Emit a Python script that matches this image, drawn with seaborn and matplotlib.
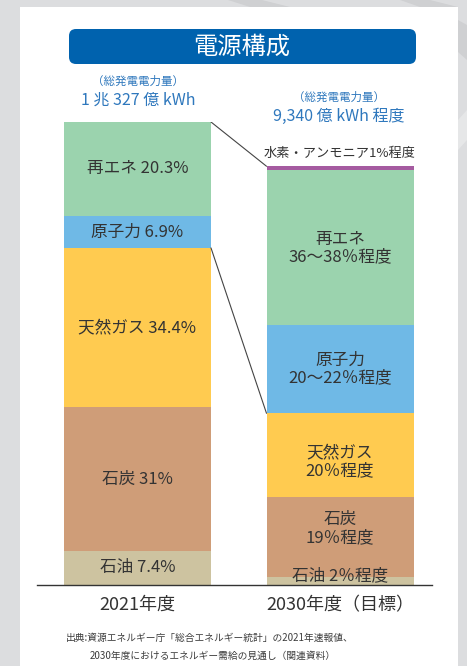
import matplotlib
matplotlib.use("Agg")
import matplotlib.pyplot as plt
from matplotlib.patches import Rectangle, FancyBboxPatch, Polygon
import numpy as np
import pandas as pd
import seaborn as sns

# 電源構成 (発電量シェア, %)
years = ["2021年度", "2030年度（目標）"]
totals = [1032.7, 934.0]  # 総発電電力量 (10億kWh)
sources = ["水素・アンモニア", "再エネ", "原子力", "天然ガス", "石炭", "石油"]
share_2021 = [0, 20.3, 6.9, 34.4, 31, 7.4]
share_2030 = [1, 37, 21, 20, 19, 2]
labels_2021 = ["", "再エネ 20.3%", "原子力 6.9%", "天然ガス 34.4%", "石炭 31%", "石油 7.4%"]
labels_2030 = ["水素・アンモニア1%程度", "再エネ\n36～38％程度", "原子力\n20～22％程度",
               "天然ガス\n20％程度", "石炭\n19％程度", "石油 2％程度"]
colors = ["#a55ba0", "#9bd3ae", "#6fb9e6", "#ffcb50", "#cf9d78", "#cdc3a0"]
header_small = ["（総発電電力量）", "（総発電電力量）"]
header_big = ["1 兆 327 億 kWh", "9,340 億 kWh 程度"]
title = "電源構成"
source_note = ["出典:資源エネルギー庁「総合エネルギー統計」の2021年速報値、",
               "2030年度におけるエネルギー需給の見通し（関連資料）"]

sns.set_style("white")
plt.rcParams["font.family"] = ["Noto Sans CJK JP", "DejaVu Sans"]

# 値 (10億kWh) と積み上げ
val = pd.DataFrame({"2021": np.array(share_2021) / 100 * totals[0],
                    "2030": np.array(share_2030) / 100 * totals[1]}, index=sources)
bottoms = val[::-1].cumsum()[::-1] - val  # 下から積む
tops = bottoms + val

fig = plt.figure(figsize=(4.67, 6.66), dpi=100, facecolor="#dcdddf")

# 背景 (ピクセル座標)
bg = fig.add_axes([0, 0, 1, 1])
bg.set_xlim(0, 467)
bg.set_ylim(666, 0)
bg.axis("off")
bg.add_patch(Polygon([[228, 0], [262, 0], [290, 7], [250, 7]], color="#cfd0d2", lw=0))
bg.add_patch(Polygon([[400, 0], [430, 0], [458, 7], [420, 7]], color="#cfd0d2", lw=0))
bg.add_patch(Polygon([[458, 20], [467, 25], [467, 60], [458, 52]], color="#cfd0d2", lw=0))
bg.add_patch(Polygon([[458, 120], [467, 110], [467, 140], [458, 150]], color="#e6e7e8", lw=0))
bg.add_patch(Rectangle((20, 7), 438, 660, facecolor="white", lw=0))
bg.add_patch(FancyBboxPatch((72, 32), 341, 29, boxstyle="round,pad=3,rounding_size=7",
                            facecolor="#0062ae", lw=0))
bg.text(242, 47, title, color="white", fontsize=17.5, ha="center", va="center")
for cx, y0, s1, s2 in zip([138, 339], [81, 97], header_small, header_big):
    bg.text(cx, y0, s1, color="#2f78bd", fontsize=8.3, ha="center", va="center")
    bg.text(cx, y0 + 19, s2, color="#2f78bd", fontsize=11.5, ha="center", va="center")
bg.text(66, 638, source_note[0], color="#3c3c3c", fontsize=7, ha="left", va="center")
bg.text(90, 656, source_note[1], color="#3c3c3c", fontsize=7, ha="left", va="center")

# 棒グラフ
ax = fig.add_axes([37 / 467, (666 - 585) / 666, 395 / 467, (585 - 122) / 666])
ax.set_facecolor("none")
bw = 0.726
for i, src in enumerate(sources):
    layer = pd.DataFrame({"year": years, "top": tops.loc[src, ["2021", "2030"]].values})
    sns.barplot(data=layer, x="year", y="top", color=colors[i], saturation=1,
                width=bw, linewidth=0, ax=ax)

ax.set_xlim(-0.496, 1.454)
ax.set_ylim(0, totals[0])
ax.set_xlabel("")
ax.set_ylabel("")
ax.set_yticks([])
ax.tick_params(axis="x", length=0, pad=8, labelsize=13, labelcolor="#333333")
for side in ["left", "right", "top"]:
    ax.spines[side].set_visible(False)
ax.spines["bottom"].set_color("#333333")
ax.spines["bottom"].set_linewidth(1)

# 接続線
fossil = ["天然ガス", "石炭", "石油"]
ax.plot([bw / 2, 1 - bw / 2], [totals[0], totals[1]], color="#444444", lw=0.8)
ax.plot([bw / 2, 1 - bw / 2], [val.loc[fossil, "2021"].sum(), val.loc[fossil, "2030"].sum()],
        color="#444444", lw=0.8)

# ラベル (2030年の天然ガス・石炭は少しずらす)
nudge = {(1, "天然ガス"): -5, (1, "石炭"): 6}
for x, col, labs in [(0, "2021", labels_2021), (1, "2030", labels_2030)]:
    for src, lab in zip(sources, labs):
        if not lab:
            continue
        y = bottoms.loc[src, col] + val.loc[src, col] / 2
        if src == "水素・アンモニア":
            ax.annotate(lab, (x, tops.loc[src, col]), xytext=(0, 9), textcoords="offset points",
                        ha="center", va="center", fontsize=9.5, color="#333333")
        elif val.loc[src, col] < 25:
            ax.annotate(lab, (x, 0), xytext=(0, 6.5), textcoords="offset points",
                        ha="center", va="center", fontsize=12, color="#333333")
        else:
            ax.annotate(lab, (x, y), xytext=(0, nudge.get((x, src), 0)),
                        textcoords="offset points", ha="center", va="center",
                        fontsize=12, color="#333333", linespacing=1.05)

fig.savefig("out.png", dpi=100, facecolor=fig.get_facecolor())
